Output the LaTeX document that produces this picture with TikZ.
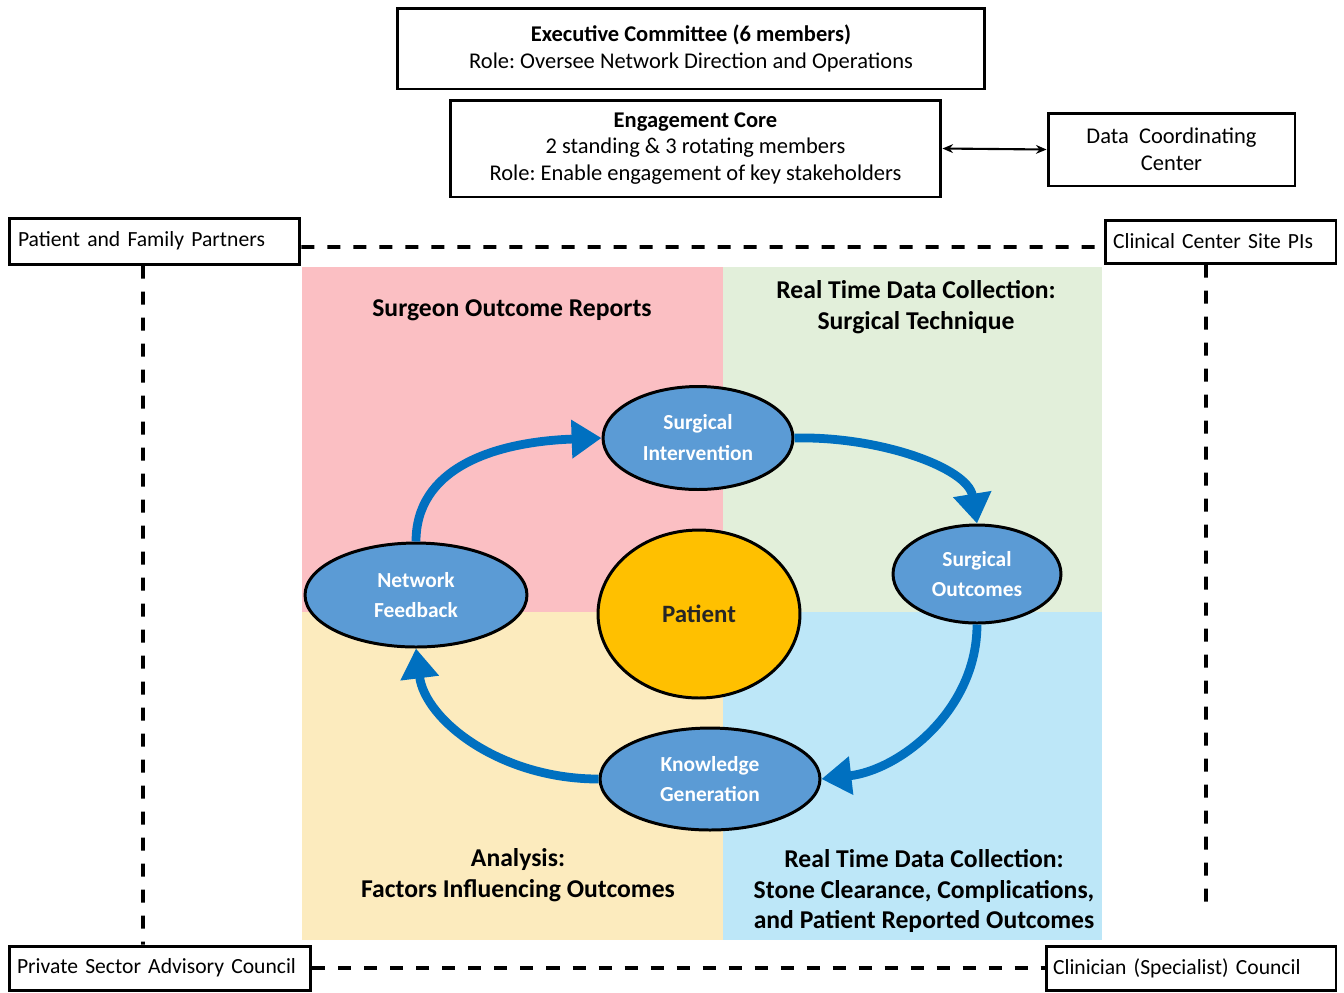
\documentclass[tikz,border=0pt]{standalone}
\usepackage{fontspec}
\setmainfont{Carlito}
\usetikzlibrary{shapes.geometric,arrows.meta}
\definecolor{qpink}{HTML}{FBBFC3}
\definecolor{qgreen}{HTML}{E2EFDA}
\definecolor{qyellow}{HTML}{FCEBBE}
\definecolor{qblue}{HTML}{BDE7F8}
\definecolor{ellblue}{HTML}{5B9BD5}
\definecolor{arrowblue}{HTML}{0070C0}
\definecolor{patgold}{HTML}{FFC000}
\frenchspacing
\begin{document}
\begin{tikzpicture}[x=0.02cm,y=-0.02cm,
  box/.style={draw,line width=1.7pt,fill=white,align=center,inner sep=0pt,
    font=\fontsize{12.8}{15.3}\selectfont},
  lbox/.style={draw,line width=1.7pt,fill=white,align=left,inner ysep=0pt,
    font=\fontsize{12.3}{15}\selectfont},
  oval/.style={ellipse,draw,line width=1.7pt,fill=ellblue,text=white,align=center,
    inner sep=0pt,font=\bfseries\fontsize{12.2}{17.6}\selectfont},
  flow/.style={line width=5pt,draw=arrowblue,-{Triangle[length=17pt,width=21pt]}},
  dline/.style={line width=2.2pt,dash pattern=on 7.4pt off 7.4pt},
  qtitle/.style={align=center,font=\bfseries\fontsize{14.6}{17.6}\selectfont}
]
\useasboundingbox (0,0) rectangle (1344,992);
\fill[white] (0,0) rectangle (1344,992);

% quadrants
\fill[qpink]   (302,267) rectangle (723,612);
\fill[qgreen]  (723,267) rectangle (1102,612);
\fill[qyellow] (302,612) rectangle (723,940);
\fill[qblue]   (723,612) rectangle (1102,940);

\node[qtitle] (t1) at (512,310) {Surgeon Outcome Reports};
\node[qtitle] (t2) at (916,307) {Real Time Data Collection:\\Surgical Technique};
\node[qtitle] (t3) at (518,875) {Analysis:\\Factors Influencing Outcomes};
\node[qtitle] (t4) at (924,891) {Real Time Data Collection:\\Stone Clearance, Complications,\\and Patient Reported Outcomes};

% top boxes
\node[box,minimum width=11.76cm,minimum height=1.62cm] (ec) at (691,48.5)
  {\textbf{Executive Committee (6 members)}\\Role: Oversee Network Direction and Operations};
\node[box,minimum width=9.82cm,minimum height=1.94cm] (eng) at (695.5,148.5)
  {\textbf{Engagement Core}\\2 standing \& 3 rotating members\\Role: Enable engagement of key stakeholders};
\node[box,minimum width=4.94cm,minimum height=1.46cm] (dcc) at (1171.5,149.5)
  {Data\ \ Coordinating\\Center};
\draw[line width=1.2pt,{Stealth[length=6pt,width=5pt]}-{Stealth[length=6pt,width=5pt]}] (eng.east) -- (dcc.west);

% corner boxes
\node[lbox,text width=5.46cm,inner xsep=0.18cm,minimum height=0.92cm] (pfp) at (154.5,241)
  {Patient and Family Partners};
\node[lbox,text width=4.30cm,inner xsep=0.16cm,minimum height=0.86cm] (cc) at (1220.5,241.5)
  {Clinical Center Site PIs};
\node[lbox,text width=5.72cm,inner xsep=0.16cm,minimum height=0.88cm] (psac) at (160,968)
  {Private Sector Advisory Council};
\node[lbox,text width=5.52cm,inner xsep=0.14cm,minimum height=0.88cm] (csc) at (1191,968)
  {Clinician (Specialist) Council};

\coordinate (rend) at (1206,912);
\draw[dline] ([yshift=-0.12cm]pfp.east) -- ([yshift=-0.11cm]cc.west);
\draw[dline] ([xshift=-0.23cm]pfp.south) -- ([xshift=-0.34cm]psac.north);
\draw[dline] ([xshift=-0.29cm]cc.south) -- (rend);
\draw[dline] (psac.east) -- (csc.west);

% cycle
\node[oval,minimum width=3.8cm,minimum height=2.06cm] (si) at (698,438) {Surgical\\Intervention};
\node[oval,minimum width=4.44cm,minimum height=2.08cm] (nf) at (416,595) {Network\\Feedback};
\node[oval,minimum width=3.36cm,minimum height=1.96cm] (so) at (977,574) {Surgical\\Outcomes};
\node[oval,minimum width=4.4cm,minimum height=2.04cm] (kg) at (710,779) {Knowledge\\Generation};
\node[ellipse,draw,line width=1.7pt,fill=patgold,inner sep=0pt,minimum width=4.04cm,minimum height=3.36cm,
  font=\bfseries\fontsize{14.2}{16}\selectfont,text=black!85] (pat) at (699,614) {Patient};

\draw[flow] (nf.north) .. controls (416,470) and (490,442) .. (si.west);
\draw[flow] (si.east) .. controls (880,436) and (968,468) .. (so.north);
\draw[flow] (so.south) .. controls (977,710) and (900,770) .. (kg.east);
\draw[flow] (kg.west) .. controls (500,779) and (425,720) .. (nf.south);
\end{tikzpicture}
\end{document}
